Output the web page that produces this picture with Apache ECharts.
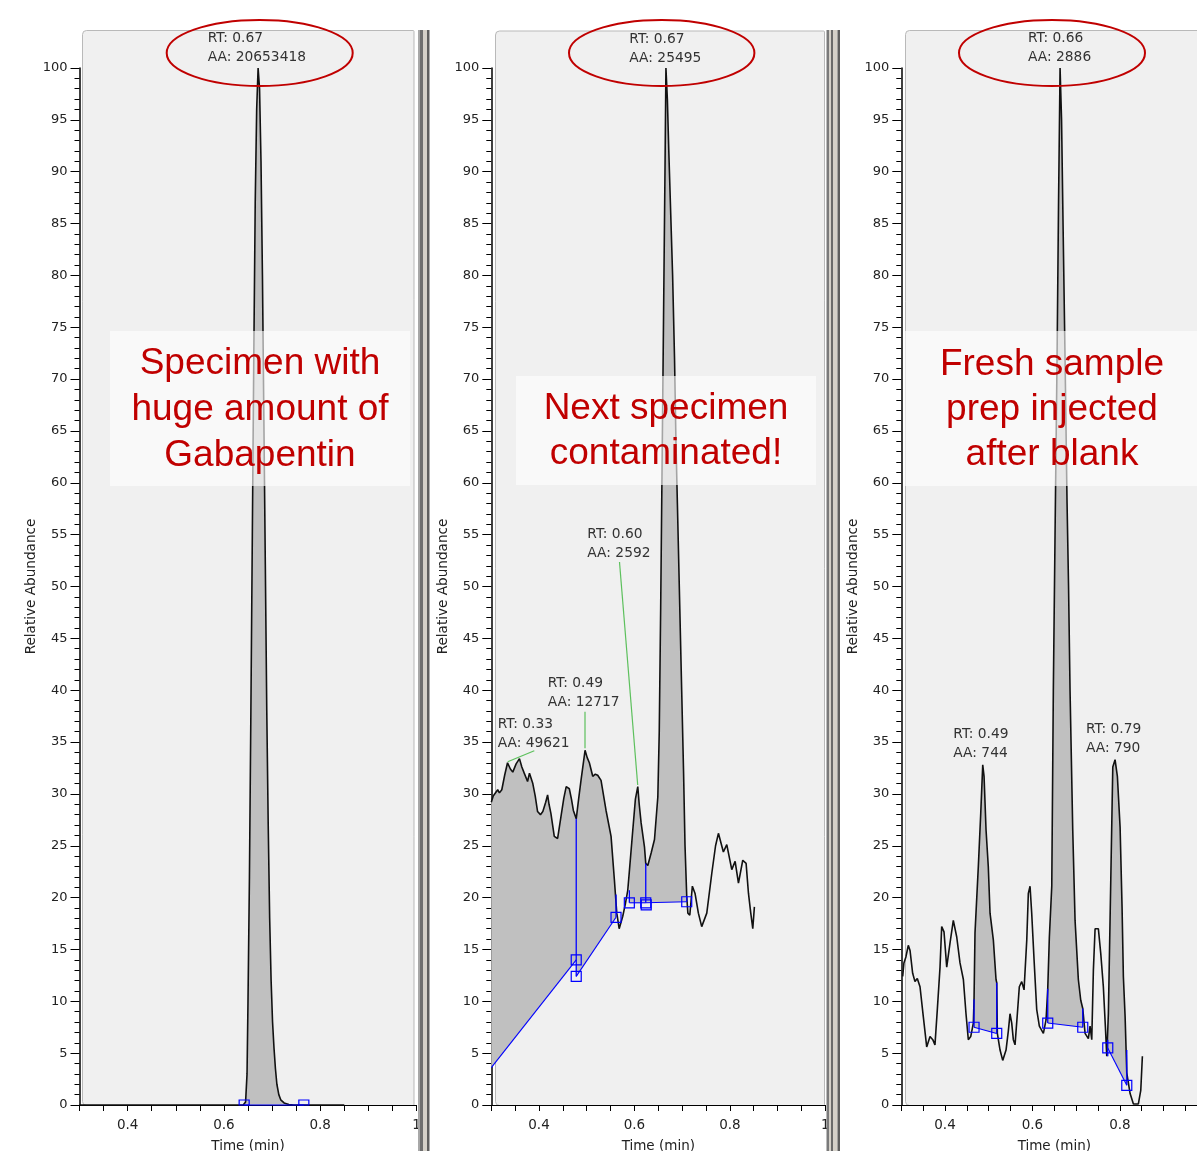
<!DOCTYPE html>
<html><head><meta charset="utf-8">
<script src="https://cdn.jsdelivr.net/npm/echarts/dist/echarts.min.js"></script>
<style>html,body{margin:0;padding:0;background:#fff;overflow:hidden}#c{width:1197px;height:1151px}</style>
</head><body><div id="c"></div>
<script>
// ---------- DATA ----------
const xLabelValues = [0.4, 0.6, 0.8, 1.0];
const xLabelTexts = ['0.4', '0.6', '0.8', '1'];

// chromatogram traces [time (min), relative abundance]
const trace1 = [[0.300,0],[0.640,0],[0.645,0.3],[0.648,3],[0.650,10],[0.653,22],[0.656,38],[0.659,55],[0.662,72],[0.665,87],[0.668,96],[0.671,100],[0.674,98],[0.677,91],[0.680,80],[0.683,66],[0.686,52],[0.689,38],[0.692,27],[0.695,18],[0.698,12],[0.701,8],[0.704,5.5],[0.707,3.5],[0.710,2],[0.714,1],[0.718,0.5],[0.725,0.2],[0.735,0.05],[0.745,0],[0.850,0]];

const trace2 = [[0.300,29.2],[0.304,29.8],[0.3134,30.4],[0.317,30.1],[0.322,30.4],[0.328,31.8],[0.334,33.0],[0.340,32.4],[0.345,32.1],[0.352,32.9],[0.359,33.4],[0.364,32.6],[0.369,32.0],[0.376,31.2],[0.380,32.0],[0.387,31.0],[0.392,29.8],[0.397,28.3],[0.403,28.0],[0.408,28.3],[0.414,29.2],[0.418,29.9],[0.421,29.0],[0.425,28.1],[0.432,25.9],[0.439,25.7],[0.446,27.8],[0.452,29.6],[0.457,30.7],[0.4635,30.5],[0.468,29.5],[0.472,28.4],[0.478,27.6],[0.483,29.5],[0.488,31.3],[0.4965,34.2],[0.501,33.5],[0.5055,33.0],[0.5126,31.7],[0.518,31.9],[0.523,31.8],[0.530,31.3],[0.5405,28.4],[0.551,25.9],[0.558,21.7],[0.5614,19.5],[0.563,18.5],[0.568,17.0],[0.5755,18.2],[0.581,19.4],[0.586,20.7],[0.5893,22.5],[0.5965,26.5],[0.602,29.5],[0.607,30.7],[0.610,29.0],[0.614,27.2],[0.621,24.9],[0.6237,23.3],[0.628,23.1],[0.635,24.3],[0.642,25.6],[0.649,29.7],[0.652,36.0],[0.655,48],[0.658,62],[0.661,76],[0.664,90],[0.666,100],[0.669,97],[0.672,92],[0.676,86],[0.680,80],[0.684,72],[0.687,64],[0.690,58],[0.694,50],[0.699,40],[0.703,32],[0.706,25],[0.7096,20.1],[0.712,18.5],[0.716,18.3],[0.7214,21.1],[0.727,20.4],[0.734,18.5],[0.741,17.2],[0.7516,18.5],[0.762,22.3],[0.770,25.0],[0.776,26.2],[0.7864,24.4],[0.7935,25.1],[0.804,22.7],[0.811,23.5],[0.818,21.4],[0.827,23.6],[0.834,23.3],[0.839,20.4],[0.8438,18.5],[0.848,17.0],[0.8514,19.1]];

const trace3 = [[0.3032,12.4],[0.306,13.7],[0.3107,14.3],[0.316,15.4],[0.320,14.9],[0.326,12.7],[0.3313,11.9],[0.3366,12.2],[0.3428,11.4],[0.3504,8.5],[0.3581,5.6],[0.3657,6.6],[0.372,6.3],[0.377,5.8],[0.3824,9.2],[0.3886,13.3],[0.3924,17.2],[0.3977,16.7],[0.4039,13.3],[0.4114,15.6],[0.419,17.8],[0.4268,16.2],[0.4343,13.7],[0.442,12.1],[0.448,8.8],[0.4533,6.3],[0.4588,6.6],[0.4648,7.9],[0.4664,10.2],[0.4686,16.6],[0.4762,23.0],[0.4817,28.1],[0.4863,32.8],[0.4893,31.7],[0.4939,26.5],[0.499,23.0],[0.503,18.5],[0.5106,15.9],[0.5167,12.1],[0.5183,11.8],[0.5197,6.9],[0.5259,5.3],[0.532,4.3],[0.5396,5.3],[0.545,7.2],[0.5487,8.8],[0.5526,7.9],[0.5563,6.3],[0.5602,5.8],[0.5655,8.8],[0.570,11.4],[0.5755,11.9],[0.5808,11.1],[0.587,15.9],[0.5906,20.4],[0.5945,21.1],[0.5983,18.5],[0.6037,14.0],[0.6098,9.2],[0.6158,7.6],[0.625,6.9],[0.6311,8.2],[0.635,11.2],[0.6387,16.2],[0.6442,21.1],[0.6478,40],[0.6517,55],[0.6563,72],[0.6597,87],[0.6632,100],[0.6666,95],[0.670,85],[0.6746,72],[0.6792,58],[0.6826,50],[0.686,40],[0.6922,26.5],[0.6975,17.8],[0.705,12.1],[0.7105,10.1],[0.7151,9.3],[0.7204,6.9],[0.7279,6.4],[0.7318,7.6],[0.7357,6.3],[0.7394,13.0],[0.7433,17.0],[0.7508,17.0],[0.7563,14.6],[0.7622,11.4],[0.7668,7.6],[0.770,4.7],[0.7737,8.8],[0.7792,21.7],[0.7838,32.6],[0.789,33.3],[0.7943,31.7],[0.8005,26.8],[0.805,19.1],[0.808,12.4],[0.812,8.5],[0.8158,3.1],[0.8234,1.1],[0.831,0.1],[0.8423,0.1],[0.8478,1.4],[0.8515,4.7]];

// integrated peak areas [startTime, startBase, endTime, endBase]
const areas1 = [[0.642,0,0.766,0]];
const areas2 = [[0.300,3.6,0.478,14.0],[0.478,12.4,0.5614,18.1],[0.5893,19.5,0.6237,19.5],[0.6237,19.5,0.7096,19.6]];
const areas3 = [[0.4664,7.5,0.5183,6.9],[0.635,7.9,0.7151,7.5],[0.7723,5.5,0.8158,1.9]];

// peak boundary drop lines [time, low, high]
const drops1 = [];
const drops2 = [[0.478,12.4,27.6],[0.5614,18.1,20.3],[0.5893,19.5,20.7],[0.6237,19.5,23.3],[0.7096,19.6,20.1]];
const drops3 = [[0.4664,7.5,10.2],[0.5183,6.9,11.8],[0.635,7.9,11.2],[0.7151,7.5,9.3],[0.7723,4.7,6.3],[0.8158,1.9,5.3]];

// boundary markers [time, abundance]
const marks1 = [[0.642,0],[0.766,0]];
const marks2 = [[0.478,14.0],[0.478,12.4],[0.5614,18.1],[0.5893,19.5],[0.6237,19.5],[0.6247,19.3],[0.7096,19.6]];
const marks3 = [[0.4664,7.5],[0.5183,6.9],[0.635,7.9],[0.7151,7.5],[0.7723,5.5],[0.8158,1.9]];

// peak annotations
const peakLabels1 = [['RT: 0.67','AA: 20653418']];
const peakLabels2 = [['RT: 0.67','AA: 25495'],['RT: 0.33','AA: 49621'],['RT: 0.49','AA: 12717'],['RT: 0.60','AA: 2592']];
const peakLabels3 = [['RT: 0.66','AA: 2886'],['RT: 0.49','AA: 744'],['RT: 0.79','AA: 790']];
const notes = [['Specimen with','huge amount of','Gabapentin'],['Next specimen','contaminated!'],['Fresh sample','prep injected','after blank']];

// ---------- LAYOUT ----------
const GTOP = 68, GH = 1037;
const grids = [{left:79.5,width:337},{left:491.3,width:334},{left:901.3,width:306}];
const labelPos = [
  [[207.7,38.3]],
  [[629.3,39.5],[497.7,724.3],[547.7,683.3],[587.3,534.3]],
  [[1028,38.3],[953.3,734.3],[1086,729]]
];
const ellipses = [[259.7,53,93,33],[661.7,53,92.7,33],[1052,53,93,33]];
const noteBoxes = [[110,331,300,155,260,[364,410,456]],[516,376,300,109,666,[409,454]],[903,331,300,155,1052,[365,410,455]]];
const plotBgs = [[82.5,30.5,331.5,1075],[495.5,31,329,1074.5],[905.5,30.5,300,1075]];
const greens = [[507.7,761.7,534.3,750.7],[585,711.7,585,748.3],[619.5,562,637.7,785]];

const FONT = 'DejaVu Sans';
const traces = [trace1,trace2,trace3];
const areas = [areas1,areas2,areas3];
const drops = [drops1,drops2,drops3];
const marks = [marks1,marks2,marks3];
const peakLabels = [peakLabels1,peakLabels2,peakLabels3];

function fillRenderer(trace, ar){
  return function(params, api){
    const a = ar[params.dataIndex];
    const pts = [api.coord([a[0],a[1]])];
    trace.forEach(p => { if (p[0] >= a[0]-1e-9 && p[0] <= a[2]+1e-9) pts.push(api.coord(p)); });
    pts.push(api.coord([a[2],a[3]]));
    return {type:'polygon', shape:{points:pts}, style:{fill:'#c0c0c0'}};
  };
}
function blueRenderer(ar, dr, mk){
  return function(params, api){
    const cs = params.coordSys;
    const bottom = cs.y + cs.height;
    const ch = [];
    ar.forEach(a => {
      const p0 = api.coord([a[0],a[1]]), p1 = api.coord([a[2],a[3]]);
      ch.push({type:'line', shape:{x1:p0[0],y1:p0[1],x2:p1[0],y2:p1[1]}, style:{stroke:'#0000ff',lineWidth:1.1}});
    });
    dr.forEach(d => {
      const p0 = api.coord([d[0],d[1]]), p1 = api.coord([d[0],d[2]]);
      ch.push({type:'line', shape:{x1:p0[0],y1:p0[1],x2:p1[0],y2:p1[1]}, style:{stroke:'#0000ff',lineWidth:1.3}});
    });
    mk.forEach(m => {
      const c = api.coord(m);
      const top = c[1]-5, bot = Math.min(c[1]+5, bottom);
      ch.push({type:'rect', shape:{x:c[0]-5,y:top,width:10,height:bot-top}, style:{fill:'none',stroke:'#0000ff',lineWidth:1.2}});
    });
    return {type:'group', children:ch};
  };
}

const option = {
  animation:false,
  backgroundColor:'#ffffff',
  grid: grids.map(g => ({left:g.left, top:GTOP, width:g.width, height:GH, containLabel:false, outerBoundsMode:'none'})),
  xAxis: grids.map((g,i) => ({
    type:'value', gridIndex:i, min:0.3, max:1.0, interval:0.05,
    axisLine:{show:true, onZero:false, lineStyle:{color:'#000',width:1.2}},
    axisTick:{show:true, length:6, lineStyle:{color:'#000',width:1}},
    splitLine:{show:false},
    axisLabel:{show:true, margin:13, fontSize:13.5, fontFamily:FONT, color:'#222', hideOverlap:false,
      formatter: v => { const k = xLabelValues.findIndex(x => Math.abs(x - v) < 1e-6); return k >= 0 ? xLabelTexts[k] : ''; }},
    name:'Time (min)', nameLocation:'middle', nameGap:34,
    nameTextStyle:{fontSize:13.5, fontFamily:FONT, color:'#222'}
  })),
  yAxis: grids.map((g,i) => ({
    type:'value', gridIndex:i, min:0, max:100, interval:5,
    axisLine:{show:true, onZero:false, lineStyle:{color:'#000',width:1.5}},
    axisTick:{show:true, length:9, lineStyle:{color:'#000',width:1}},
    minorTick:{show:true, splitNumber:5, length:5, lineStyle:{color:'#000',width:1}},
    splitLine:{show:false}, minorSplitLine:{show:false},
    axisLabel:{margin:12, fontSize:13, fontFamily:FONT, color:'#222'},
    name:'Relative Abundance', nameLocation:'middle', nameGap:41,
    nameTextStyle:{fontSize:13.6, fontFamily:FONT, color:'#222'}
  })),
  series: [],
  graphic: []
};

for (let i = 0; i < 3; i++) {
  option.series.push({
    type:'custom', xAxisIndex:i, yAxisIndex:i, z:2, silent:true,
    renderItem: fillRenderer(traces[i], areas[i]),
    data: areas[i].map(a => [(a[0]+a[2])/2, (a[1]+a[3])/2])
  });
  option.series.push({
    type:'line', xAxisIndex:i, yAxisIndex:i, z:3, silent:true,
    data: traces[i], showSymbol:false, symbol:'none',
    lineStyle:{color:'#111', width:1.6}
  });
  option.series.push({
    type:'custom', xAxisIndex:i, yAxisIndex:i, z:4, silent:true,
    renderItem: blueRenderer(areas[i], drops[i], marks[i]),
    data: [[0.5, 50]]
  });
}

const G = option.graphic;
plotBgs.forEach(b => G.push({type:'rect', z:-10, silent:true, shape:{x:b[0],y:b[1],width:b[2],height:b[3],r:[4,1,1,4]}, style:{fill:'#f0f0f0',stroke:'#b9b9b9',lineWidth:1}}));
peakLabels.forEach((pl, i) => pl.forEach((lab, j) => {
  const p = labelPos[i][j];
  G.push({type:'text', z:20, silent:true, style:{text:lab[0], x:p[0], y:p[1], font:'13.8px "'+FONT+'"', fill:'#333', align:'left', verticalAlign:'middle'}});
  G.push({type:'text', z:20, silent:true, style:{text:lab[1], x:p[0], y:p[1]+19, font:'13.8px "'+FONT+'"', fill:'#333', align:'left', verticalAlign:'middle'}});
}));
greens.forEach(l => G.push({type:'line', z:20, silent:true, shape:{x1:l[0],y1:l[1],x2:l[2],y2:l[3]}, style:{stroke:'#5cc05c',lineWidth:1.2}}));
notes.forEach((lines, i) => {
  const b = noteBoxes[i];
  G.push({type:'rect', z:50, silent:true, shape:{x:b[0],y:b[1],width:b[2],height:b[3]}, style:{fill:'rgba(255,255,255,0.62)'}});
  lines.forEach((t, j) => G.push({type:'text', z:51, silent:true, style:{text:t, x:b[4], y:b[5][j], font:'37px "Liberation Sans"', fill:'#c00000', align:'center', verticalAlign:'middle'}}));
});
ellipses.forEach(e => G.push({type:'ellipse', z:60, silent:true, shape:{cx:e[0],cy:e[1],rx:e[2],ry:e[3]}, style:{fill:'none',stroke:'#c00000',lineWidth:2}}));
const splitBars = [
  [418,30,2,1121,'#a8a8a8'],[420,30,3,1121,'#6e6e6e'],[423,30,4,1121,'#d4d0c8'],[427,30,2.5,1121,'#5e5e5e'],
  [826.5,30,2.5,1121,'#7a7a7a'],[829,30,2,1121,'#d4d0c8'],[831,30,2,1121,'#6a6a6a'],[833,30,4.5,1121,'#d4d0c8'],[837.5,30,2.5,1121,'#5e5e5e']
];
splitBars.forEach(s => G.push({type:'rect', z:70, silent:true, shape:{x:s[0],y:s[1],width:s[2],height:s[3]}, style:{fill:s[4]}}));

const chart = echarts.init(document.getElementById('c'), null, {renderer:'canvas'});
chart.setOption(option);
</script></body></html>
